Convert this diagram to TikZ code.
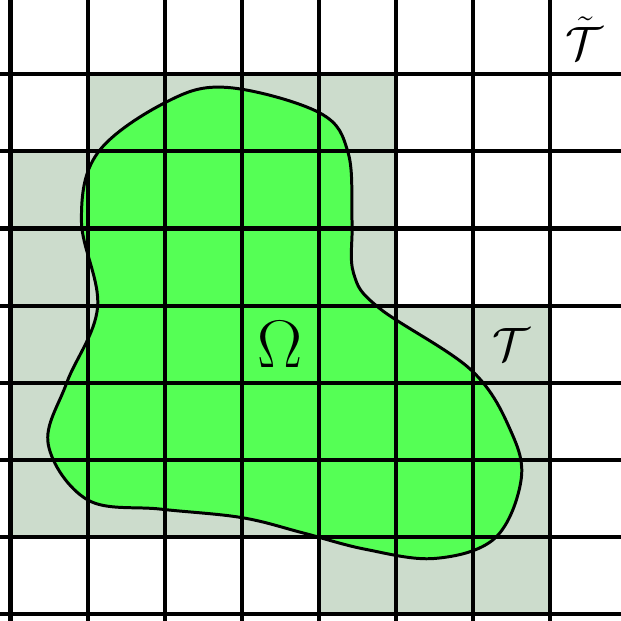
\documentclass[tikz,border=0pt]{standalone}
\usepackage{amsmath}
\definecolor{cellgray}{RGB}{204,220,204}
\definecolor{domgreen}{RGB}{85,255,85}
\tikzset{
  gridline/.style={line width=1.5pt, black},
  boundary/.style={line width=1.1pt, black},
  cellfill/.style={fill=cellgray, draw=none}
}
\begin{document}
\begin{tikzpicture}
\useasboundingbox (-0.136,-0.091) rectangle (7.918,7.964);
\fill[white] (-0.136,-0.091) rectangle (7.918,7.964);
% shaded cells of the mesh T
\fill[cellgray] (1,6) rectangle (5,7);
\fill[cellgray] (0,4) rectangle (5,6);
\fill[cellgray] (0,1) rectangle (7,4);
\fill[cellgray] (4,0) rectangle (7,1);
% domain
\def\dompath{plot[smooth cycle, tension=0.6] coordinates {
 (2.81,6.83) (4.01,6.50) (4.38,5.98) (4.43,5.10) (4.45,4.42) (4.78,3.97)
 (5.98,3.16) (6.50,2.35) (6.62,1.72) (6.28,0.98) (5.50,0.72)
 (4.60,0.84) (3.80,1.05) (3.00,1.25) (1.95,1.36) (1.00,1.48) (0.49,2.20) (0.73,3.00)
 (1.13,3.98) (0.92,5.10) (1.13,5.98) (2.02,6.64)}}
\fill[domgreen] \dompath;
% grid
\foreach \i in {0,...,8} {
  \draw[gridline] (\i,-0.2) -- (\i,8.2);
  \draw[gridline] (-0.2,\i) -- (8.2,\i);
}
\draw[boundary] \dompath;
\node (omega) at (3.5,3.5) {\Huge $\Omega$};
\node (mesh) at (6.5,3.5) {\LARGE $\mathcal{T}$};
\node (bigmesh) at (7.44,7.47) {\LARGE $\tilde{\mathcal{T}}$};
\end{tikzpicture}
\end{document}
